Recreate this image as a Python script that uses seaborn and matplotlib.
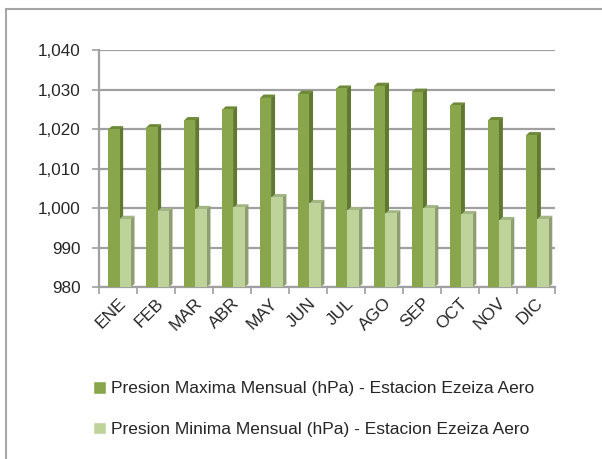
import numpy as np
import pandas as pd
import seaborn as sns
import matplotlib.pyplot as plt
from matplotlib.patches import Polygon, Rectangle
from matplotlib.ticker import FuncFormatter

meses = ["ENE", "FEB", "MAR", "ABR", "MAY", "JUN", "JUL", "AGO", "SEP", "OCT", "NOV", "DIC"]
presion_max = [1020.0, 1020.5, 1022.3, 1025.0, 1028.0, 1029.0, 1030.3, 1031.0, 1029.5, 1026.0, 1022.3, 1018.5]
presion_min = [997.3, 999.3, 999.8, 1000.2, 1002.8, 1001.3, 999.5, 998.7, 1000.0, 998.5, 997.0, 997.3]

serie_max = "Presion Maxima Mensual (hPa) - Estacion Ezeiza Aero"
serie_min = "Presion Minima Mensual (hPa) - Estacion Ezeiza Aero"

df = pd.DataFrame({
    "MES": meses * 2,
    "VALOR": presion_max + presion_min,
    "SERIE": [serie_max] * 12 + [serie_min] * 12,
})

sns.set_style("white")
plt.rcParams["font.family"] = ["Liberation Sans", "DejaVu Sans"]

colores = {serie_max: "#8AA64C", serie_min: "#BED39A"}
lados = {serie_max: "#5F7A30", serie_min: "#8E9E72"}
topes = {serie_max: "#6E8A38", serie_min: "#A3B683"}

fig = plt.figure(figsize=(6.02, 4.59), dpi=100)
ax = fig.add_axes([0.1645, 0.3747, 0.757, 0.516])

sns.barplot(df, x="MES", y="VALOR", hue="SERIE", palette=colores,
            width=0.6, dodge=True, ax=ax, saturation=1, zorder=3,
            legend=False, linewidth=0, edgecolor="none")
ax.set_ylim(980, 1040)

# fake 3D: side and top faces taken from each bar patch
dx, dy = 0.095, 0.76
for cont, serie in zip(ax.containers, [serie_max, serie_min]):
    for p in cont.patches:
        p.set_x(p.get_x() + 0.04)
        x0 = p.get_x()
        x1 = x0 + p.get_width()
        top = p.get_y() + p.get_height()
        base = 980
        ax.add_patch(Polygon([[x1 - 0.01, base], [x1 + dx, base + dy], [x1 + dx, top + dy], [x1 - 0.01, top]],
                             closed=True, facecolor=lados[serie], edgecolor="none", zorder=2.5))
        ax.add_patch(Polygon([[x0, top - 0.1], [x0 + dx, top + dy], [x1 + dx, top + dy], [x1, top - 0.1]],
                             closed=True, facecolor=topes[serie], edgecolor="none", zorder=2.5))

ax.set_yticks(np.arange(980, 1041, 10))
ax.yaxis.set_major_formatter(FuncFormatter(lambda v, pos: f"{v:,.0f}"))
ax.grid(axis="y", color="#A0A0A0", linewidth=1.6, zorder=0)
ax.set_axisbelow(True)

ax.set_xlim(-0.5, 11.5)
ax.set_xticks(np.arange(-0.5, 12, 1), minor=True)
ax.tick_params(axis="x", which="major", length=0, labelsize=12.5, pad=6, bottom=True)
ax.tick_params(axis="x", which="minor", length=5, color="#A0A0A0", width=1.2, bottom=True)
ax.tick_params(axis="y", length=5, color="#A0A0A0", width=1.2, labelsize=12.3, pad=8, left=True)
for lbl in ax.get_xticklabels():
    lbl.set_rotation(45)
    lbl.set_ha("right")
    lbl.set_rotation_mode("anchor")

for lado in ["top", "right"]:
    ax.spines[lado].set_visible(False)
for lado in ["left", "bottom"]:
    ax.spines[lado].set_color("#A0A0A0")
    ax.spines[lado].set_linewidth(1.6)

ax.set_xlabel("")
ax.set_ylabel("")

# legend below the plot
handles = [Rectangle((0, 0), 1, 1, facecolor=colores[serie_max]),
           Rectangle((0, 0), 1, 1, facecolor=colores[serie_min])]
fig.legend(handles, [serie_max, serie_min], loc="upper left",
           bbox_to_anchor=(93 / 602, 1 - 381 / 459), frameon=False,
           fontsize=12.5, handlelength=0.75, handleheight=0.75,
           handletextpad=0.3, labelspacing=1.45, borderpad=0, borderaxespad=0)

# chart border
fig.patches.append(Rectangle((6 / 602, -0.05), 1.2, 1 - 9 / 459 + 0.05,
                             transform=fig.transFigure, fill=False,
                             edgecolor="#A6A6A6", linewidth=1.5))

plt.savefig("out.png", dpi=100)
